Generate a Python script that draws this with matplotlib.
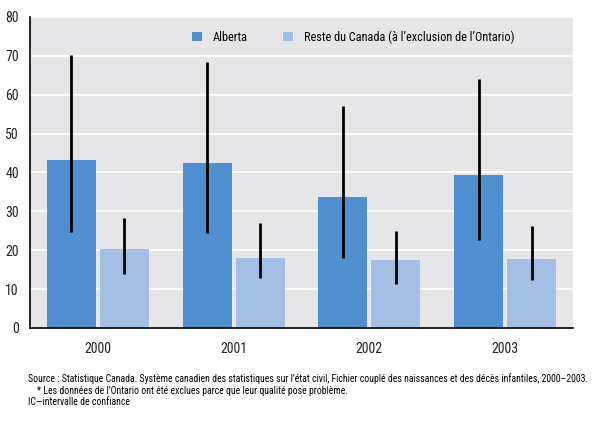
import numpy as np
import matplotlib
matplotlib.use('Agg')
import matplotlib.pyplot as plt

years = ['2000', '2001', '2002', '2003']
alberta = [43.2, 42.4, 33.6, 39.4]
alberta_low = [24.7, 24.4, 18.0, 22.6]
alberta_high = [70.3, 68.4, 57.0, 64.0]
reste = [20.2, 18.1, 17.4, 17.7]
reste_low = [13.9, 12.9, 11.3, 12.3]
reste_high = [28.4, 26.9, 25.0, 26.1]

plt.rcParams['font.family'] = ['Roboto Condensed', 'Archivo Narrow', 'PT Sans Narrow',
                               'Liberation Sans Narrow', 'DejaVu Sans']

fig = plt.figure(figsize=(5.95, 4.21), dpi=100)
ax = fig.add_axes([0.0504, 0.221, 0.9126, 0.739])
ax.set_facecolor('#e6e6e8')

x = np.arange(len(years))
w = 0.36
off = 0.195
ax.bar(x - off, alberta, width=w, color='#5090d0', label='Alberta', zorder=2)
ax.bar(x + off, reste, width=w, color='#a4bfe4',
       label="Reste du Canada (à l’exclusion de l’Ontario)", zorder=2)
ax.vlines(x - off, alberta_low, alberta_high, color='black', lw=2, zorder=3)
ax.vlines(x + off, reste_low, reste_high, color='black', lw=2, zorder=3)

ax.set_xlim(-0.5, 3.5)
ax.set_ylim(0, 80)
ax.set_yticks(range(0, 81, 10))
ax.set_xticks(x)
ax.set_xticklabels(years)
ax.yaxis.grid(True, color='white', lw=1.2, zorder=1)
ax.set_axisbelow(True)
ax.tick_params(length=0, labelsize=10, colors='#222222')
ax.tick_params(axis='x', pad=10)
ax.tick_params(axis='y', pad=8)
for s in ['top', 'right']:
    ax.spines[s].set_visible(False)
ax.spines['left'].set_linewidth(1.2)
ax.spines['bottom'].set_linewidth(1.2)

ax.legend(loc='upper left', bbox_to_anchor=(0.298, 0.956), ncol=2, frameon=False,
          fontsize=8.8, handlelength=0.82, handleheight=0.82, columnspacing=2.85,
          handletextpad=0.9, borderpad=0, borderaxespad=0)

fig.text(0.047, 0.093, "Source : Statistique Canada. Système canadien des statistiques sur l’état civil, "
         "Fichier couplé des naissances et des décès infantiles, 2000–2003.", fontsize=7)
fig.text(0.062, 0.065, "* Les données de l’Ontario ont été exclues parce que leur qualité pose problème.",
         fontsize=7)
fig.text(0.047, 0.037, "IC—intervalle de confiance", fontsize=7)

fig.savefig('out.png', dpi=100)
